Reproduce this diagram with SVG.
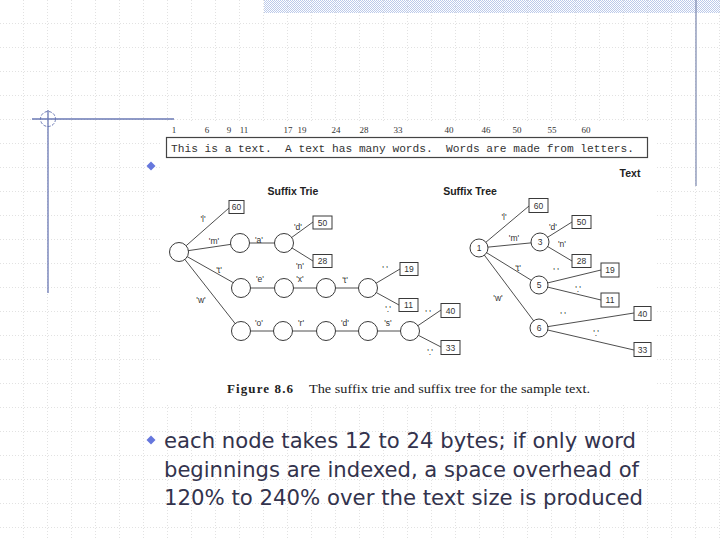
<svg xmlns="http://www.w3.org/2000/svg" width="720" height="540" viewBox="0 0 720 540">
<defs>
<pattern id="grid" width="24" height="24" patternUnits="userSpaceOnUse">
<path d="M24 0V24M0 24H24" fill="none" stroke="#c4c4c4" stroke-width="1" stroke-dasharray="1,2"/>
</pattern>
<pattern id="check" width="2" height="2" patternUnits="userSpaceOnUse">
<rect width="1" height="1" fill="#bccaea"/><rect x="1" y="1" width="1" height="1" fill="#bccaea"/>
</pattern>
<style>
.e{stroke:#3a3a3a;stroke-width:0.9;fill:none}
.n{stroke:#3a3a3a;stroke-width:1;fill:#fff}
.b{stroke:#3a3a3a;stroke-width:1;fill:#fff}
.l{font-family:"Liberation Sans",Arial,sans-serif;font-size:8.5px;fill:#333;text-anchor:middle}
.bt{font-family:"Liberation Sans",Arial,sans-serif;font-size:8.5px;fill:#333;text-anchor:middle}
.h{font-family:"Liberation Sans",Arial,sans-serif;font-size:10.5px;font-weight:bold;fill:#222;text-anchor:middle}
.num{font-family:"Liberation Serif","Times New Roman",serif;font-size:9px;fill:#333;text-anchor:middle}
.body{font-family:"DejaVu Sans",Verdana,sans-serif;font-size:21px;fill:#33334d}
</style>
</defs>
<rect width="720" height="540" fill="#fff"/>
<rect width="720" height="540" fill="url(#grid)"/>
<rect x="264" y="0" width="456" height="13" fill="url(#check)"/>
<g id="deco" stroke="#6a78b4" stroke-width="1.3" fill="none">
<line x1="696" y1="0" x2="696" y2="186" stroke="#8490b4"/>
<line x1="48" y1="110" x2="48" y2="293"/>
<line x1="32" y1="119" x2="174" y2="119"/>
<circle cx="48" cy="119" r="7.5" stroke-width="1" stroke-dasharray="3,1.5"/>
</g>
<rect x="162" y="122" width="494" height="283" fill="#fff"/>
<g id="textstrip">
<g class="num">
<text x="174" y="133">1</text><text x="207" y="133">6</text><text x="229" y="133">9</text><text x="244" y="133">11</text>
<text x="288" y="133">17</text><text x="302" y="133">19</text><text x="336" y="133">24</text><text x="364" y="133">28</text>
<text x="398" y="133">33</text><text x="449" y="133">40</text><text x="486" y="133">46</text><text x="517" y="133">50</text>
<text x="552" y="133">55</text><text x="586" y="133">60</text>
</g>
<rect x="166.5" y="137.5" width="481" height="20" fill="#fff" stroke="#444" stroke-width="1.2"/>
<text x="171" y="152" font-family="Liberation Mono,Courier New,monospace" font-size="11.2px" fill="#333" xml:space="preserve" textLength="463" lengthAdjust="spacing">This is a text.  A text has many words.  Words are made from letters.</text>
</g>
<text class="h" x="630" y="177">Text</text>
<text class="h" x="293" y="195">Suffix Trie</text>
<text class="h" x="470" y="195">Suffix Tree</text>
<g id="connectors">
<line class="e" x1="179" y1="252" x2="229" y2="208"/>
<line class="e" x1="179" y1="252" x2="240" y2="243"/>
<line class="e" x1="179" y1="252" x2="241" y2="287"/>
<line class="e" x1="179" y1="252" x2="241" y2="331"/>
<line class="e" x1="240" y1="243" x2="284" y2="243"/>
<line class="e" x1="284" y1="243" x2="313" y2="222"/>
<line class="e" x1="284" y1="243" x2="313" y2="261"/>
<line class="e" x1="241" y1="288" x2="368" y2="288"/>
<line class="e" x1="368" y1="288" x2="400" y2="269"/>
<line class="e" x1="368" y1="288" x2="399" y2="305"/>
<line class="e" x1="241" y1="331" x2="410" y2="331"/>
<line class="e" x1="410" y1="331" x2="441" y2="310"/>
<line class="e" x1="410" y1="331" x2="441" y2="347"/>
<line class="e" x1="479" y1="248" x2="529" y2="206"/>
<line class="e" x1="479" y1="248" x2="540" y2="242"/>
<line class="e" x1="479" y1="248" x2="539" y2="285"/>
<line class="e" x1="479" y1="248" x2="539" y2="328"/>
<line class="e" x1="540" y1="242" x2="572" y2="222"/>
<line class="e" x1="540" y1="242" x2="572" y2="261"/>
<line class="e" x1="539" y1="285" x2="601" y2="270"/>
<line class="e" x1="539" y1="285" x2="601" y2="300"/>
<line class="e" x1="539" y1="328" x2="634" y2="313"/>
<line class="e" x1="539" y1="328" x2="634" y2="350"/>
</g>
<g id="edge-labels" class="l">
<text x="203" y="222">'l'</text><text x="214" y="244">'m'</text><text x="219" y="273">'t'</text><text x="201" y="303">'w'</text>
<text x="259" y="243">'a'</text><text x="298" y="230">'d'</text><text x="300" y="269">'n'</text>
<text x="260" y="282">'e'</text><text x="300" y="282">'x'</text><text x="345" y="283">'t'</text><text x="385" y="272">' '</text><text x="388" y="312">'.'</text>
<text x="259" y="326">'o'</text><text x="301" y="326">'r'</text><text x="345" y="326">'d'</text><text x="388" y="326">'s'</text><text x="428" y="316">' '</text><text x="430" y="355">'.'</text>
<text x="504" y="220">'l'</text><text x="514" y="241">'m'</text><text x="553" y="230">'d'</text><text x="562" y="247">'n'</text>
<text x="518" y="271">'t'</text><text x="556" y="274">' '</text><text x="578" y="292">'.'</text>
<text x="498" y="301">'w'</text><text x="563" y="318">' '</text><text x="596" y="336">'.'</text>
</g>
<g id="trie-nodes">
<circle id="t0" class="n" cx="179" cy="252" r="9.5"/>
<circle id="t1" class="n" cx="240" cy="243" r="9.5"/>
<circle id="t2" class="n" cx="284" cy="243" r="9.5"/>
<circle id="t3" class="n" cx="241" cy="288" r="9.5"/>
<circle id="t4" class="n" cx="284" cy="288" r="9.5"/>
<circle id="t5" class="n" cx="326" cy="288" r="9.5"/>
<circle id="t6" class="n" cx="368" cy="288" r="9.5"/>
<circle id="t7" class="n" cx="241" cy="331" r="9.5"/>
<circle id="t8" class="n" cx="283" cy="331" r="9.5"/>
<circle id="t9" class="n" cx="326" cy="331" r="9.5"/>
<circle id="t10" class="n" cx="368" cy="331" r="9.5"/>
<circle id="t11" class="n" cx="410" cy="331" r="9.5"/>
</g>
<g id="trie-leaves">
<g id="tl60"><rect class="b" x="229" y="200.5" width="15" height="13"/><text class="bt" x="236.5" y="210">60</text></g>
<g id="tl50"><rect class="b" x="313" y="216" width="19" height="13"/><text class="bt" x="322.5" y="225.5">50</text></g>
<g id="tl28"><rect class="b" x="313" y="254.5" width="19" height="13"/><text class="bt" x="322.5" y="264">28</text></g>
<g id="tl19"><rect class="b" x="400" y="262.5" width="18" height="13"/><text class="bt" x="409" y="272">19</text></g>
<g id="tl11"><rect class="b" x="399" y="298.5" width="19" height="13"/><text class="bt" x="408.5" y="308">11</text></g>
<g id="tl40"><rect class="b" x="441" y="303.5" width="19" height="14"/><text class="bt" x="450.5" y="313.5">40</text></g>
<g id="tl33"><rect class="b" x="441" y="340.5" width="19" height="14"/><text class="bt" x="450.5" y="350.5">33</text></g>
</g>
<g id="tree-nodes">
<g id="n1"><circle class="n" cx="479" cy="248" r="9"/><text class="bt" x="479" y="251">1</text></g>
<g id="n3"><circle class="n" cx="540" cy="242" r="9"/><text class="bt" x="540" y="245">3</text></g>
<g id="n5"><circle class="n" cx="539" cy="285" r="9"/><text class="bt" x="539" y="288">5</text></g>
<g id="n6"><circle class="n" cx="539" cy="328" r="9"/><text class="bt" x="539" y="331">6</text></g>
</g>
<g id="tree-leaves">
<g id="sl60"><rect class="b" x="529" y="198.5" width="19" height="14"/><text class="bt" x="538.5" y="208.5">60</text></g>
<g id="sl50"><rect class="b" x="572" y="215.5" width="19" height="13"/><text class="bt" x="581.5" y="225">50</text></g>
<g id="sl28"><rect class="b" x="572" y="254.5" width="19" height="13"/><text class="bt" x="581.5" y="264">28</text></g>
<g id="sl19"><rect class="b" x="601" y="263" width="18" height="14"/><text class="bt" x="610" y="273">19</text></g>
<g id="sl11"><rect class="b" x="601" y="293" width="18" height="14"/><text class="bt" x="610" y="303">11</text></g>
<g id="sl40"><rect class="b" x="634" y="306.5" width="17" height="14"/><text class="bt" x="642.5" y="316.5">40</text></g>
<g id="sl33"><rect class="b" x="634" y="342.5" width="17" height="14"/><text class="bt" x="642.5" y="352.5">33</text></g>
</g>
<g id="caption" font-family="Liberation Serif,'Times New Roman',serif" font-size="13px" fill="#222">
<text x="227" y="393" font-weight="bold" textLength="66" lengthAdjust="spacing">Figure 8.6</text>
<text x="309" y="393" textLength="281" lengthAdjust="spacingAndGlyphs">The suffix trie and suffix tree for the sample text.</text>
</g>
<g id="bullets" fill="#6677dd">
<path d="M151 161.5L155.5 166L151 170.5L146.5 166Z"/>
<path d="M151 435.5L155.5 440L151 444.5L146.5 440Z"/>
</g>
<g id="body" class="body">
<text x="164" y="448" textLength="472" lengthAdjust="spacingAndGlyphs">each node takes 12 to 24 bytes; if only word</text>
<text x="164" y="477" textLength="475" lengthAdjust="spacingAndGlyphs">beginnings are indexed, a space overhead of</text>
<text x="164" y="505" textLength="479" lengthAdjust="spacingAndGlyphs">120% to 240% over the text size is produced</text>
</g>
</svg>
